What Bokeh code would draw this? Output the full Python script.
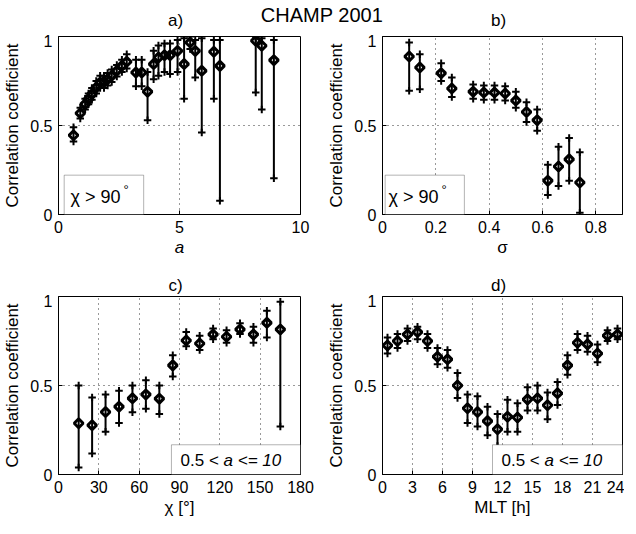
import math
from bokeh.plotting import figure
from bokeh.layouts import column, row
from bokeh.models import Label, BoxAnnotation, FixedTicker, Range1d, CustomJSTickFormatter
from bokeh.embed import file_html
from bokeh.resources import INLINE

# ---------------- data ----------------
# panel a) : correlation vs a  (chi > 90 deg)
a_vals = [0.62, 0.90, 1.10, 1.24, 1.38, 1.56, 1.72, 1.88, 2.03, 2.20, 2.41, 2.62, 2.82,
          3.20, 3.44, 3.68, 3.93, 4.13, 4.38, 4.61, 4.92, 5.19, 5.44, 5.65, 5.92,
          6.42, 6.67, 8.15, 8.40, 8.90]
r_a = [0.445, 0.569, 0.620, 0.648, 0.676, 0.713, 0.742, 0.745, 0.760, 0.779, 0.807, 0.835, 0.858,
       0.798, 0.798, 0.690, 0.845, 0.882, 0.895, 0.895, 0.919, 0.845, 0.966, 0.919, 0.807,
       0.914, 0.835, 0.976, 0.948, 0.867]
lo_a = [0.41, 0.54, 0.59, 0.62, 0.645, 0.68, 0.71, 0.71, 0.725, 0.745, 0.775, 0.80, 0.82,
        0.72, 0.72, 0.53, 0.76, 0.78, 0.80, 0.79, 0.80, 0.65, 0.93, 0.77, 0.46,
        0.65, 0.077, 0.685, 0.59, 0.204]
hi_a = [0.49, 0.60, 0.65, 0.68, 0.71, 0.75, 0.78, 0.78, 0.795, 0.815, 0.84, 0.87, 0.90,
        0.87, 0.87, 0.80, 0.92, 0.95, 0.96, 0.96, 0.98, 0.99, 1.0, 0.98, 0.99,
        0.98, 0.98, 0.99, 0.99, 0.98]

# panel b) : correlation vs sigma (chi > 90 deg)
sigma_vals = [0.10, 0.14, 0.22, 0.26, 0.34, 0.38, 0.42, 0.46, 0.50, 0.54, 0.58, 0.62, 0.66, 0.70, 0.74]
r_b = [0.888, 0.826, 0.794, 0.708, 0.690, 0.685, 0.685, 0.680, 0.640, 0.576, 0.530, 0.190, 0.270, 0.310, 0.180]
lo_b = [0.695, 0.704, 0.75, 0.66, 0.65, 0.645, 0.645, 0.64, 0.60, 0.52, 0.47, 0.11, 0.16, 0.19, 0.01]
hi_b = [0.966, 0.90, 0.85, 0.77, 0.73, 0.725, 0.725, 0.72, 0.69, 0.63, 0.59, 0.28, 0.38, 0.43, 0.35]

# panel c) : correlation vs chi (0.5 < a <= 10)
chi_vals = [15, 25, 35, 45, 55, 65, 75, 85, 95, 105, 115, 125, 135, 145, 155, 165]
r_c = [0.288, 0.277, 0.351, 0.381, 0.428, 0.450, 0.426, 0.613, 0.753, 0.736, 0.787, 0.774, 0.815, 0.787, 0.852, 0.815]
lo_c = [0.04, 0.118, 0.24, 0.29, 0.35, 0.37, 0.34, 0.55, 0.72, 0.70, 0.76, 0.74, 0.79, 0.74, 0.77, 0.27]
hi_c = [0.50, 0.432, 0.45, 0.47, 0.50, 0.53, 0.50, 0.67, 0.80, 0.78, 0.82, 0.81, 0.85, 0.83, 0.92, 0.97]

# panel d) : correlation vs MLT (0.5 < a <= 10)
mlt_vals = [0.5, 1.5, 2.5, 3.5, 4.5, 5.5, 6.5, 7.5, 8.5, 9.5, 10.5, 11.5,
            12.5, 13.5, 14.5, 15.5, 16.5, 17.5, 18.5, 19.5, 20.5, 21.5, 22.5, 23.5]
r_d = [0.725, 0.750, 0.787, 0.800, 0.750, 0.662, 0.647, 0.500, 0.372, 0.351, 0.300, 0.254,
       0.325, 0.320, 0.422, 0.428, 0.389, 0.456, 0.613, 0.740, 0.731, 0.680, 0.780, 0.787]
lo_d = [0.68, 0.71, 0.75, 0.76, 0.71, 0.62, 0.60, 0.43, 0.29, 0.27, 0.22, 0.16,
        0.24, 0.24, 0.36, 0.36, 0.31, 0.39, 0.56, 0.70, 0.69, 0.63, 0.75, 0.76]
hi_d = [0.77, 0.79, 0.82, 0.83, 0.79, 0.71, 0.70, 0.57, 0.45, 0.44, 0.38, 0.34,
        0.42, 0.40, 0.49, 0.50, 0.46, 0.52, 0.67, 0.79, 0.78, 0.73, 0.81, 0.82]

# ticks
y_ticks = [0, 0.5, 1]
y_tick_labels = ["0", "0.5", "1"]
a_ticks = [0, 5, 10]
a_tick_labels = ["0", "5", "10"]
sigma_ticks = [0, 0.2, 0.4, 0.6, 0.8]
sigma_tick_labels = ["0", "0.2", "0.4", "0.6", "0.8"]
chi_ticks = [0, 30, 60, 90, 120, 150, 180]
chi_tick_labels = ["0", "30", "60", "90", "120", "150", "180"]
mlt_ticks = [0, 3, 6, 9, 12, 15, 18, 21, 24]
mlt_tick_labels = ["0", "3", "6", "9", "12", "15", "18", "21", "24"]

FONT = "Liberation Sans"
TICK_FS = "16px"
LAB_FS = "17px"


def fmt(tv, tl):
    return CustomJSTickFormatter(args=dict(tv=tv, tl=tl), code="""
        let best = 0;
        for (let k = 0; k < tv.length; k++) {
            if (Math.abs(tv[k] - tick) < Math.abs(tv[best] - tick)) best = k;
        }
        return tl[best];
    """)


def style_axis(ax, ticks, labels, label, italic, label_standoff):
    ax.ticker = FixedTicker(ticks=ticks)
    ax.formatter = fmt(ticks, labels)
    ax.axis_line_color = "black"
    ax.axis_line_width = 1
    ax.major_tick_line_color = "black"
    ax.major_tick_line_width = 1
    ax.major_tick_in = 4
    ax.major_tick_out = 0
    ax.minor_tick_line_color = None
    ax.major_label_text_font = FONT
    ax.major_label_text_color = "black"
    ax.major_label_text_font_size = TICK_FS
    ax.major_label_standoff = 6
    ax.axis_label = label
    ax.axis_label_text_font = FONT
    ax.axis_label_text_font_size = LAB_FS
    ax.axis_label_text_color = "black"
    ax.axis_label_text_font_style = "italic" if italic else "normal"
    ax.axis_label_standoff = label_standoff


def panel(x, r, lo, hi, xr, xticks, xlabels, xlabel, italic, fw, bl, br, bt, bb):
    p = figure(output_backend="svg", toolbar_location=None,
               x_range=Range1d(*xr), y_range=Range1d(0, 1),
               frame_width=fw, frame_height=178,
               min_border_left=bl, min_border_right=br, min_border_top=bt, min_border_bottom=bb)
    p.background_fill_color = "white"
    p.border_fill_color = "white"
    p.outline_line_color = "black"
    p.outline_line_width = 1
    style_axis(p.below[0], xticks, xlabels, xlabel, italic, 2)
    style_axis(p.left[0], y_ticks, y_tick_labels, "Correlation coefficient", False, 5)

    p.xgrid.ticker = FixedTicker(ticks=xticks)
    p.ygrid.ticker = FixedTicker(ticks=y_ticks)
    for g in (p.xgrid[0], p.ygrid[0]):
        g.grid_line_color = "black"
        g.grid_line_alpha = 0.8
        g.grid_line_dash = "1 4"
        g.grid_line_width = 1

    p.segment(x0=x, y0=lo, x1=x, y1=hi, line_color="black", line_width=2)
    p.scatter(x=x, y=lo, marker="cross", size=7.5, line_color="black", line_width=2)
    p.scatter(x=x, y=hi, marker="cross", size=7.5, line_color="black", line_width=2)
    p.scatter(x=x, y=r, marker="square", angle=math.pi / 4, size=6.3,
              fill_color=None, line_color="black", line_width=3)
    return p


def legend_box(p, left, right, top, tx, ty, parts):
    p.add_layout(BoxAnnotation(left=left, right=right, bottom=0, top=top,
                               fill_color="white", fill_alpha=1.0,
                               line_color="black", line_width=1))
    for (txt, xo, yo, fs, style) in parts:
        p.add_layout(Label(x=tx, y=ty, x_offset=xo, y_offset=yo, text=txt, text_font=FONT,
                           text_font_size=fs, text_font_style=style,
                           text_align="left", text_baseline="middle", text_color="black"))


def strip(h, items):
    s = figure(output_backend="svg", toolbar_location=None, width=620, height=h,
               x_range=Range1d(0, 620), y_range=Range1d(0, h),
               x_axis_location=None, y_axis_location=None,
               min_border=0, min_border_left=0, min_border_right=0,
               min_border_top=0, min_border_bottom=0)
    s.outline_line_color = None
    s.grid.visible = False
    s.background_fill_color = "white"
    s.border_fill_color = "white"
    for (tx, ty, txt, fs) in items:
        s.add_layout(Label(x=tx, y=ty, text=txt, text_font=FONT, text_font_size=fs,
                           text_align="center", text_baseline="alphabetic", text_color="black"))
    return s


pa = panel(a_vals, r_a, lo_a, hi_a, (0, 10), a_ticks, a_tick_labels, "a", True, 242, 54, 14, 2, 50)
pb = panel(sigma_vals, r_b, lo_b, hi_b, (0, 0.9), sigma_ticks, sigma_tick_labels, "σ", False, 240, 68, 2, 2, 50)
pc = panel(chi_vals, r_c, lo_c, hi_c, (0, 180), chi_ticks, chi_tick_labels, "χ [°]", False, 242, 54, 14, 2, 44)
pd = panel(mlt_vals, r_d, lo_d, hi_d, (0, 24), mlt_ticks, mlt_tick_labels, "MLT [h]", False, 240, 68, 2, 2, 44)

chi_parts = [("χ > 90", 0, 0, "18px", "normal"), ("°", 53, 8, "13px", "normal")]
a_parts = [("0.5 < ", 0, 0, LAB_FS, "normal"), ("a <= 10", 43, 0, LAB_FS, "italic")]

legend_box(pa, 0.235, 3.52, 0.221, 0.5, 0.096, chi_parts)
legend_box(pb, 0.01, 0.307, 0.221, 0.0225, 0.096, chi_parts)
legend_box(pc, 84, 180, 0.167, 90.8, 0.079, a_parts)
legend_box(pd, 11, 24, 0.167, 11.9, 0.079, a_parts)

head1 = strip(34, [(321.5, 19.3, "CHAMP 2001", "20px"),
                   (175, 13.6, "a)", LAB_FS),
                   (498, 13.6, "b)", LAB_FS)])
head2 = strip(30, [(175, 8.6, "c)", LAB_FS),
                   (498, 8.6, "d)", LAB_FS)])

layout = column(head1, row(pa, pb, spacing=0), head2, row(pc, pd, spacing=0), spacing=0)

open("out.html", "w").write(file_html(layout, INLINE))
